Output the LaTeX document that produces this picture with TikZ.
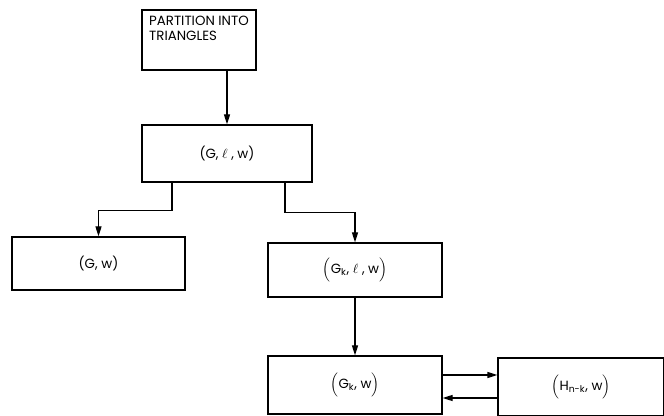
\documentclass[tikz,border=0pt]{standalone}
\usepackage{fontspec}
\setmainfont{Poppins}
\usetikzlibrary{positioning,arrows.meta,calc}
\tikzset{
  box/.style ={draw=black, line width=.9pt, fill=white, align=center, inner sep=3pt, font=\fontsize{10}{11.5}\selectfont},
  ln/.style  ={draw=black, line width=.9pt, -{Triangle[length=7.5pt,width=4.5pt]}},
}
\newcommand{\sub}[1]{\textsubscript{#1}}

\begin{document}
\begin{tikzpicture}[x=0.75pt,y=-0.75pt]
    \useasboundingbox (0,0) rectangle (664,416);
    \node[box,align=left,minimum width=85.5pt,minimum height=45pt] (part) at (199,40)
      {PARTITION INTO\\ TRIANGLES\\[6pt]};
    \node[box,minimum width=127.5pt,minimum height=42.75pt] (glw) at (227,153.5)
      {(G, $\ell$ , w)};
    \node[box,minimum width=129.75pt,minimum height=39.75pt] (gw) at (98.5,263.5)
      {(G, w)};
    \node[box,minimum width=130.5pt,minimum height=40.5pt] (gklw) at (355,270)
      {$\Bigl($G\sub{k}, $\ell$ , w$\Bigr)$};
    \node[box,minimum width=130.5pt,minimum height=43.5pt] (gkw) at (355,385)
      {$\Bigl($G\sub{k}, w$\Bigr)$};
    \node[box,minimum width=124.5pt,minimum height=43.5pt] (hw) at (581,387)
      {$\Bigl($H\sub{n-k}, w$\Bigr)$};

    \coordinate (fwd) at ($(gkw.east)+(0,-10)$);
    \coordinate (bck) at ($(gkw.east)+(0,13)$);

    \draw[ln] (part.south -| glw.north) -- (glw.north);
    \draw[ln] ($(glw.south)+(-55,0)$) -- ++(0,28) -| (gw.north);
    \draw[ln] ($(glw.south)+(58,0)$) -- ++(0,30) -| (gklw.north);
    \draw[ln] (gklw.south) -- (gkw.north);
    \draw[ln] (fwd) -- (fwd -| hw.west);
    \draw[ln] (bck -| hw.west) -- (bck);
\end{tikzpicture}
\end{document}
